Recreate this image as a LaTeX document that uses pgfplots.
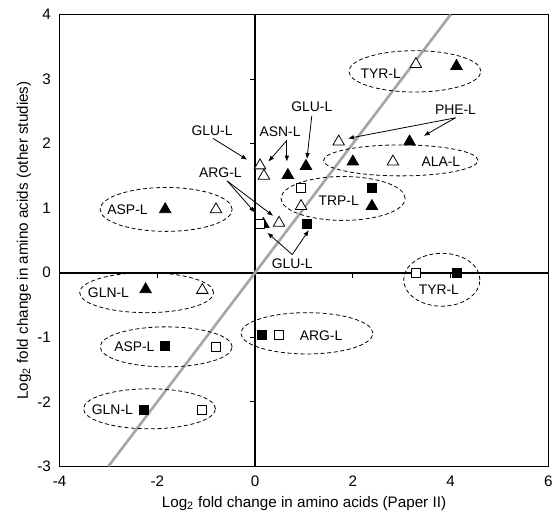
\documentclass[border=0pt]{standalone}
\usepackage{fontspec}
\setmainfont{Liberation Sans}
\usepackage{pgfplots}
\usepackage{pgfplotstable}
\pgfplotsset{compat=1.18}
\usetikzlibrary{arrows.meta}

% filled triangles
\pgfplotstableread{
x y
4.12 3.20
3.16 2.03
2.00 1.72
1.04 1.65
0.67 1.51
2.39 1.03
-1.84 0.98
-2.24 -0.26
0.17 0.75
}\filledtri
% open triangles
\pgfplotstableread{
x y
3.29 3.23
1.71 2.03
2.82 1.72
0.10 1.66
0.18 1.50
0.94 1.03
0.49 0.77
-0.80 0.98
-1.08 -0.27
}\opentri
% filled squares
\pgfplotstableread{
x y
2.39 1.32
1.06 0.75
-1.84 -1.14
-2.27 -2.12
0.14 -0.97
4.12 0.00
}\filledsq
% open squares
\pgfplotstableread{
x y
0.94 1.32
0.10 0.75
-0.80 -1.15
-1.08 -2.12
0.49 -0.97
3.29 0.00
}\opensq

\begin{document}
\begin{tikzpicture}
\pgfplotsset{
  common/.style={
    scale only axis,
    width=369pt, height=341pt,
    xmin=-4, xmax=6, ymin=-3, ymax=4,
    xtick={-4,-2,...,6}, ytick={-3,-2,...,4},
  }
}
% zero lines with tick marks
\begin{axis}[common,
    axis lines=middle,
    axis line style={-, line width=1.4pt},
    xticklabels={}, yticklabels={},
    tick align=outside,
    major tick length=4pt,
    tick style={black, line width=0.6pt},
]
\end{axis}
% main axis with data
\begin{axis}[common,
    name=ax,
    axis line style={line width=0.7pt},
    major tick length=0pt,
    /pgf/number format/assume math mode=true,
    ticklabel style={font=\fontsize{11.5}{13}\selectfont},
    xticklabel style={yshift=-4pt},
    yticklabel style={xshift=-3pt},
    label style={font=\fontsize{11.5}{13}\selectfont},
    xlabel={Log\textsubscript{2} fold change in amino acids (Paper II)},
    ylabel={Log\textsubscript{2} fold change in amino acids (other studies)},
    xlabel style={yshift=0pt},
    ylabel style={yshift=-2pt},
    clip=false,
]
% identity line
\addplot[color=black!35, line width=2pt] coordinates {(-3,-3) (4,4)};

% dashed groups
\begin{scope}[line width=0.6pt, dash pattern=on 3pt off 2pt]
\draw (axis cs:3.27,3.12) ellipse [x radius=1.35, y radius=0.32];
\draw (axis cs:2.98,1.74) ellipse [x radius=1.58, y radius=0.24];
\draw (axis cs:1.80,1.15) ellipse [x radius=1.27, y radius=0.34];
\draw (axis cs:-1.82,0.98) ellipse [x radius=1.35, y radius=0.34];
\draw (axis cs:-2.22,-0.31) ellipse [x radius=1.37, y radius=0.31];
\draw (axis cs:-1.82,-1.15) ellipse [x radius=1.35, y radius=0.31];
\draw (axis cs:-2.16,-2.11) ellipse [x radius=1.35, y radius=0.31];
\draw (axis cs:1.06,-0.94) ellipse [x radius=1.35, y radius=0.32];
\draw (axis cs:3.82,-0.11) ellipse [x radius=0.78, y radius=0.41];
\end{scope}

\addplot[only marks, mark=triangle*, mark size=5pt, mark options={fill=black, draw=black, line width=0.6pt}] table {\filledtri};
\addplot[only marks, mark=triangle*, mark size=5pt, mark options={fill=white, draw=black, line width=0.6pt}] table {\opentri};
\addplot[only marks, mark=square*, mark size=3.4pt, mark options={fill=black, draw=black, line width=0.6pt}] table {\filledsq};
\addplot[only marks, mark=square*, mark size=3.4pt, mark options={fill=white, draw=black, line width=0.6pt}] table {\opensq};

% labels
\begin{scope}[every node/.style={font=\fontsize{10.5}{12}\selectfont, inner sep=1pt}]
\node at (axis cs:2.57,3.09) {TYR-L};
\node at (axis cs:4.10,2.52) {PHE-L};
\node at (axis cs:3.80,1.72) {ALA-L};
\node at (axis cs:1.71,1.12) {TRP-L};
\node at (axis cs:1.16,2.57) {GLU-L};
\node at (axis cs:0.51,2.18) {ASN-L};
\node at (axis cs:-0.88,2.20) {GLU-L};
\node at (axis cs:-0.71,1.55) {ARG-L};
\node at (axis cs:-2.61,0.97) {ASP-L};
\node at (axis cs:0.76,0.14) {GLU-L};
\node at (axis cs:-3.00,-0.31) {GLN-L};
\node at (axis cs:-2.47,-1.14) {ASP-L};
\node at (axis cs:-2.92,-2.12) {GLN-L};
\node at (axis cs:1.35,-0.97) {ARG-L};
\node at (axis cs:3.76,-0.26) {TYR-L};
\end{scope}

% arrows
\begin{scope}[-{Latex[length=4.5pt,width=3.5pt]}, line width=0.6pt]
\draw (axis cs:-0.86,2.08) -- (axis cs:-0.16,1.75);
\draw (axis cs:0.65,2.05) -- (axis cs:0.27,1.72);
\draw (axis cs:0.65,2.05) -- (axis cs:0.65,1.72);
\draw (axis cs:1.16,2.43) -- (axis cs:1.06,1.76);
\draw (axis cs:-0.57,1.42) -- (axis cs:0.00,0.93);
\draw (axis cs:-0.57,1.42) -- (axis cs:0.37,0.88);
\draw (axis cs:0.76,0.28) -- (axis cs:0.25,0.62);
\draw (axis cs:0.76,0.28) -- (axis cs:1.10,0.66);
\draw (axis cs:4.10,2.40) -- (axis cs:1.90,2.08);
\draw (axis cs:4.10,2.40) -- (axis cs:3.45,2.12);
\end{scope}
\end{axis}
\path ([shift={(-45pt,-38pt)}]ax.south west) rectangle ([shift={(4pt,11pt)}]ax.north east);
\end{tikzpicture}
\end{document}
